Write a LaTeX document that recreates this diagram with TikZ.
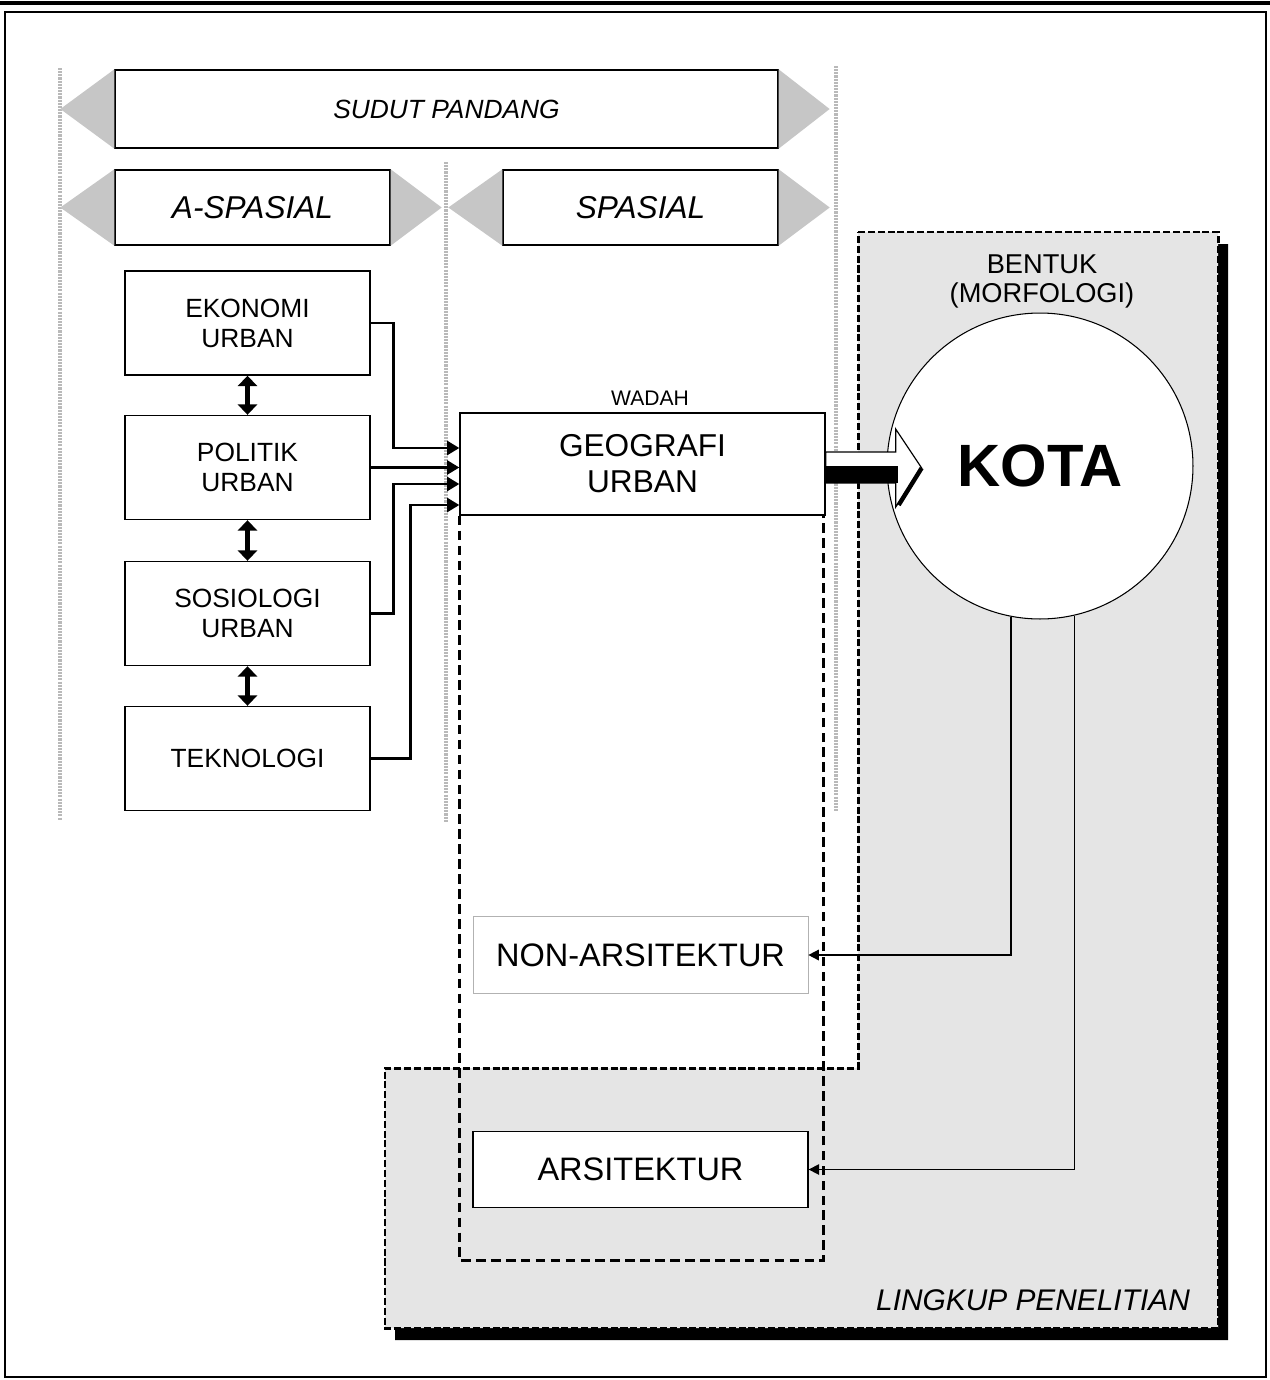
\documentclass[tikz,border=0pt]{standalone}
\usepackage{fontspec}
\setmainfont{Liberation Sans}
\usetikzlibrary{
  calc, % For coordinate calculations
  arrows.meta % For arrow tips
}

\begin{document}
\begin{tikzpicture}[
      x=0.02cm, y=-0.02cm, % Pixelraster, y nach unten
      box/.style={draw, line width=0.8pt, fill=white, align=center, inner sep=0pt,
        minimum width=4.9cm, minimum height=2.08cm, font=\fontsize{15}{17}\selectfont},
      head/.style={box, minimum width=5.5cm, minimum height=1.5cm, font=\itshape\fontsize{18}{20}\selectfont},
      leaf/.style={box, minimum width=6.7cm, minimum height=1.53cm, font=\fontsize{18.5}{20}\selectfont},
      wing/.style={fill=gray!45}, % graue Dreiecke
      sep/.style={gray!55, line width=2.2pt, dash pattern=on 1.2pt off 0.6pt},
      feed/.style={line width=1.6pt, -{Triangle[length=7pt, width=8pt]}},
      link/.style={line width=2.4pt, {Triangle[length=6pt, width=11pt]}-{Triangle[length=6pt, width=11pt]}},
      back/.style={line width=0.9pt, -{Triangle[length=6pt, width=6pt]}},
      zone/.style={draw, line width=1.7pt, dash pattern=on 4pt off 1.6pt, fill=gray!20},
      col/.style={line width=1.5pt, dash pattern=on 5.5pt off 3pt},
    ]

    \useasboundingbox (0,0) rectangle (1270,1380);

    % Rahmen
    \draw[line width=2.5pt] (0,3) -- (1270,3);
    \draw[line width=0.8pt] (5,12) rectangle (1266,1377);

    % Lingkup Penelitian (mit Schatten)
    \fill[black] (868,244) -- (1228,244) -- (1228,1340) -- (395,1340) -- (395,1080) -- (868,1080) -- cycle;
    \path[zone] (858,232) -- (1218,232) -- (1218,1328) -- (385,1328) -- (385,1068) -- (858,1068) -- cycle;
    \node[font=\itshape\fontsize{17}{19}\selectfont] (lingkup) at (1033,1300) {LINGKUP PENELITIAN};

    % Trennlinien
    \foreach \x/\a/\b in {60/68/820, 446/162/822, 836/66/812}
    \draw[sep] (\x,\a) -- (\x,\b);

    % Sudut pandang
    \node[head, minimum width=13.26cm, minimum height=1.56cm, font=\itshape\fontsize{15}{17}\selectfont] (sudut) at (446.5,109) {SUDUT PANDANG};
    \node[head] (aspasial) at (252.5,207.5) {A-SPASIAL};
    \node[head] (spasial) at (640.5,207.5) {SPASIAL};

    \foreach \n in {sudut, aspasial, spasial} {
      \fill[wing] (\n.north west) -- ($(\n.west)+(-54,0)$) -- (\n.south west) -- cycle;
      \fill[wing] (\n.north east) -- ($(\n.east)+(51,0)$) -- (\n.south east) -- cycle;
    }

    % A-spasial
    \node[box] (ekonomi) at (247.5,323) {EKONOMI\\URBAN};
    \node[box] (politik) at (247.5,467.5) {POLITIK\\URBAN};
    \node[box] (sosiologi) at (247.5,613.5) {SOSIOLOGI\\URBAN};
    \node[box] (teknologi) at (247.5,758.5) {TEKNOLOGI};

    \foreach \i/\j in {ekonomi/politik, politik/sosiologi, sosiologi/teknologi}
    \draw[link] (\i.south) -- (\j.north);

    % Spasial
    \node[box, minimum width=7.3cm, minimum height=2.04cm, font=\fontsize{18}{20.5}\selectfont] (geo) at (642.5,464) {GEOGRAFI\\URBAN};
    \node[font=\fontsize{12}{14}\selectfont] (wadah) at (650,398) {WADAH};
    \draw[col] (geo.south west) -- ++(0,745) -| ($(geo.south east)+(-2,0)$);

    \node[leaf, draw=gray!60, line width=0.4pt] (nonars) at (640.5,955) {NON-ARSITEKTUR};
    \node[leaf] (ars) at (640.5,1169.5) {ARSITEKTUR};

    \draw[feed] (ekonomi.east) -- ++(23,0) |- ($(geo.west)+(0,-16)$);
    \draw[feed] (politik.east) -- (politik.east -| geo.west);
    \draw[feed] (sosiologi.east) -- ++(23,0) |- ($(geo.west)+(0,20)$);
    \draw[feed] (teknologi.east) -- ++(40,0) |- ($(geo.west)+(0,41)$);

    % Kota
    \node[draw, circle, fill=white, line width=0.6pt, minimum size=6.12cm, inner sep=0pt,
      font=\bfseries\fontsize{34}{36}\selectfont] (kota) at (1040,466) {KOTA};
    \node[align=center, font=\fontsize{15.5}{16.5}\selectfont] (bentuk) at (1042,281) {BENTUK\\(MORFOLOGI)};

    % Pfeil Geografi -> Kota
    \begin{scope}[shift={(geo.east)}]
      \draw[fill=white, line width=0.7pt] (0,-12) -- (70,-12) -- (70,-35) -- (96,4) -- (70,43) -- (70,19) -- (0,19) -- cycle;
      \fill (0,2) rectangle (72,19);
      \draw[line width=2.5pt] (96,4) -- (73,41);
    \end{scope}

    \draw[back] (kota.259) |- (nonars.east);
    \draw[back] (kota.283) |- (ars.east);
  \end{tikzpicture}
\end{document}
